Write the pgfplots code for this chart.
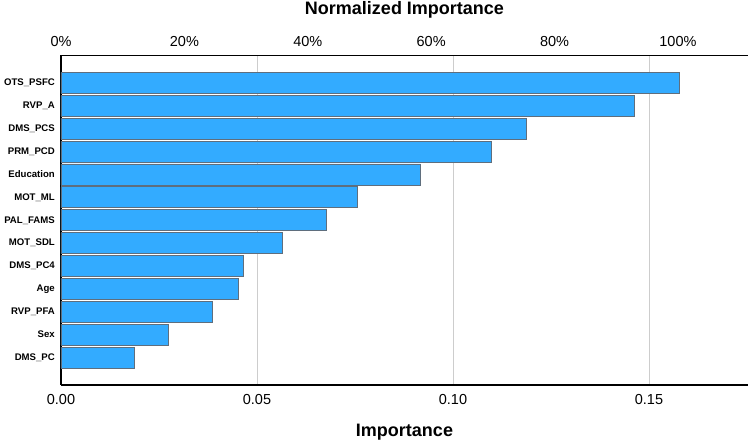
\documentclass[border=0pt]{standalone}
\usepackage{pgfplots}
\pgfplotsset{compat=1.18}
\usepackage{fontspec}
\setmainfont{Liberation Sans}

\definecolor{barfill}{RGB}{51,171,255}
\definecolor{barline}{RGB}{95,110,125}
\definecolor{gridgray}{RGB}{205,205,205}

\begin{document}
\begin{tikzpicture}
\useasboundingbox (0,0) rectangle (750pt,443pt);
% bottom axis: Importance
\begin{axis}[
    at={(61pt,58pt)}, anchor=south west,
    scale only axis,
    width=687pt, height=329.5pt,
    xmin=0, xmax=0.17526,
    ymin=-0.2, ymax=14.2,
    y dir=reverse,
    axis x line*=bottom, axis y line*=left,
    x axis line style={-, line width=1.3pt},
    y axis line style={-, line width=1.6pt},
    xtick={0,0.05,0.1,0.15},
    xmajorgrids,
    major grid style={gridgray, line width=0.9pt},
    major tick length=0pt,
    /pgf/number format/assume math mode=true,
    xticklabel={\pgfmathprintnumber[fixed,fixed zerofill,precision=2]{\tick}},
    xticklabel style={font=\fontsize{14.5}{16}\selectfont, anchor=center, yshift=-15pt},
    ytick={1,...,13},
    yticklabels={OTS\_PSFC,RVP\_A,DMS\_PCS,PRM\_PCD,Education,MOT\_ML,PAL\_FAMS,MOT\_SDL,DMS\_PC4,Age,RVP\_PFA,Sex,DMS\_PC},
    yticklabel style={font=\fontsize{9.6}{11}\selectfont\bfseries, anchor=east, inner sep=0pt, xshift=-6pt},
    xlabel={Importance},
    xlabel style={font=\fontsize{18}{20}\selectfont\bfseries, at={(axis description cs:0.5,0)}, anchor=center, yshift=-47pt},
    xbar, bar width=0.92, bar shift=0pt,
]
\addplot[draw=barline, fill=barfill, line width=0.8pt] coordinates {
    (0.1577,1)
    (0.1462,2)
    (0.1188,3)
    (0.1099,4)
    (0.0917,5)
    (0.0756,6)
    (0.0678,7)
    (0.0565,8)
    (0.0465,9)
    (0.0452,10)
    (0.0387,11)
    (0.0275,12)
    (0.0187,13)
};
\end{axis}
% top axis: Normalized Importance
\begin{axis}[
    at={(61pt,58pt)}, anchor=south west,
    scale only axis,
    width=687pt, height=329.5pt,
    xmin=0, xmax=111.35,
    ymin=0, ymax=1,
    axis x line*=top,
    axis y line=none,
    x axis line style={-, line width=1pt},
    xtick={0,20,40,60,80,100},
    xticklabels={0\%,20\%,40\%,60\%,80\%,100\%},
    major tick length=0pt,
    xticklabel style={font=\fontsize{14.5}{16}\selectfont, anchor=center, yshift=13.5pt},
    xlabel={Normalized Importance},
    xlabel style={font=\fontsize{18}{20}\selectfont\bfseries, at={(axis description cs:0.5,1)}, anchor=center, yshift=46pt},
]
\end{axis}
\end{tikzpicture}
\end{document}
